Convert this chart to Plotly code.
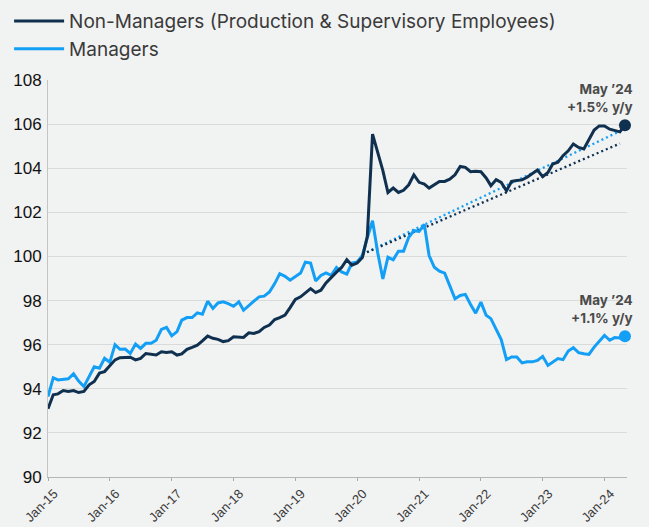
import pandas as pd
import plotly.graph_objects as go

dates = pd.date_range("2015-01-01", "2024-05-01", freq="MS")

non_managers = [
    93.1, 93.73, 93.77, 93.92, 93.88, 93.92, 93.83, 93.88, 94.18, 94.33, 94.71, 94.78,
    95.04, 95.31, 95.41, 95.43, 95.43, 95.31, 95.38, 95.6, 95.58, 95.53, 95.68, 95.65,
    95.68, 95.53, 95.58, 95.79, 95.88, 95.98, 96.17, 96.39, 96.29, 96.24, 96.14, 96.18,
    96.36, 96.36, 96.33, 96.54, 96.51, 96.59, 96.78, 96.89, 97.14, 97.23, 97.34, 97.68,
    98.05, 98.17, 98.35, 98.54, 98.36, 98.47, 98.8, 99.07, 99.29, 99.5, 99.85, 99.6,
    99.7, 99.95, 100.9, 105.55, 104.79, 103.89, 102.9, 103.1, 102.9, 103.0, 103.25, 103.7,
    103.36, 103.28, 103.1, 103.25, 103.4, 103.4, 103.5, 103.7, 104.08, 104.04, 103.84, 103.86,
    103.84, 103.56, 103.21, 103.48, 103.36, 102.98, 103.4, 103.44, 103.47, 103.59, 103.77, 103.92,
    103.62, 103.81, 104.19, 104.27, 104.57, 104.79, 105.1, 104.94, 104.87, 105.28, 105.73, 105.92,
    105.92, 105.77, 105.7, 105.65, 105.95,
]

managers = [
    93.65, 94.5, 94.4, 94.42, 94.45, 94.68, 94.35, 94.1, 94.55, 95.0, 94.93, 95.38,
    95.2, 96.0, 95.79, 95.8, 95.6, 96.03, 95.83, 96.06, 96.06, 96.2, 96.69, 96.78,
    96.4, 96.59, 97.11, 97.23, 97.23, 97.44, 97.38, 97.97, 97.64, 97.89, 97.94, 97.86,
    97.74, 97.94, 97.56, 97.79, 97.97, 98.17, 98.2, 98.39, 98.77, 99.22, 99.1, 98.92,
    99.1, 99.25, 99.74, 99.7, 98.89, 99.14, 99.25, 99.14, 99.5, 99.3, 99.2, 99.7,
    99.75, 100.05, 100.85, 101.62, 100.19, 98.98, 99.97, 99.85, 100.24, 100.24, 100.87, 101.17,
    101.14, 101.45, 100.04, 99.51, 99.33, 99.24, 98.68, 98.08, 98.23, 98.28, 97.82, 97.43,
    97.93, 97.33, 97.18, 96.72, 96.23, 95.32, 95.44, 95.44, 95.17, 95.22, 95.22, 95.29,
    95.47, 95.06, 95.22, 95.37, 95.32, 95.71, 95.86, 95.64, 95.59, 95.56, 95.89, 96.17,
    96.42, 96.2, 96.32, 96.3, 96.38,
]

trend_dates = ["2020-02-01", "2024-04-01"]
trend_non_managers = [100.1, 105.12]
trend_managers = [100.1, 105.68]

label_non_managers = "May \u201924<br>+1.5% y/y"
label_managers = "May \u201924<br>+1.1% y/y"

y_ticks = [90, 92, 94, 96, 98, 100, 102, 104, 106, 108]

DARK = "#10304f"
BLUE = "#129ff5"
BG = "#f1f2f2"

fig = go.Figure()

fig.add_trace(go.Scatter(
    x=trend_dates, y=trend_managers, mode="lines",
    line=dict(color=BLUE, width=2.3, dash="2px,3px"),
    showlegend=False, hoverinfo="skip"))
fig.add_trace(go.Scatter(
    x=trend_dates, y=trend_non_managers, mode="lines",
    line=dict(color=DARK, width=2.3, dash="2px,3px"),
    showlegend=False, hoverinfo="skip"))

fig.add_trace(go.Scatter(
    x=dates, y=managers, mode="lines", name="Managers",
    line=dict(color=BLUE, width=3), legendgroup="b", legendrank=2))
fig.add_trace(go.Scatter(
    x=dates, y=non_managers, mode="lines",
    name="Non-Managers (Production & Supervisory Employees)",
    line=dict(color=DARK, width=3), legendgroup="a", legendrank=1))

fig.add_trace(go.Scatter(
    x=[dates[-1]], y=[non_managers[-1]], mode="markers", cliponaxis=False,
    marker=dict(color=DARK, size=12), showlegend=False, hoverinfo="skip"))
fig.add_trace(go.Scatter(
    x=[dates[-1]], y=[managers[-1]], mode="markers", cliponaxis=False,
    marker=dict(color=BLUE, size=12), showlegend=False, hoverinfo="skip"))

ann_font = dict(family="Inter", size=13.5, color="#4a4a4a", weight="bold")
for txt, yv in ((label_non_managers, non_managers[-1]), (label_managers, managers[-1])):
    fig.add_annotation(
        x=dates[-1], y=yv, xref="x", yref="y", text=txt, showarrow=False,
        xanchor="right", yanchor="middle", align="right",
        xshift=10, yshift=27, font=ann_font)

fig.update_layout(
    width=649, height=527,
    paper_bgcolor=BG, plot_bgcolor=BG,
    margin=dict(l=48, r=22, t=80, b=50, autoexpand=False),
    font=dict(family="Inter", color="#333333"),
    showlegend=True,
    legend=dict(
        xref="container", yref="container", x=0.014, y=0.996,
        xanchor="left", yanchor="top",
        font=dict(family="Inter", size=19, color="#3a3a3a"),
        bgcolor="rgba(0,0,0,0)", tracegroupgap=0, itemwidth=50,
        traceorder="grouped"),
    xaxis=dict(
        type="date", range=["2015-01-01", "2024-05-13"],
        tick0="2015-01-01", dtick="M12", tickformat="%b-%y",
        tickangle=-45, ticks="outside", ticklen=3, tickcolor="#aaaaaa",
        showgrid=False, showline=True, linecolor="#b5b5b5", linewidth=1,
        tickfont=dict(family="Liberation Sans", size=13, color="#3a3a3a"),
        ticklabelstandoff=0, ticklabelshift=6,
        automargin=False, zeroline=False),
    yaxis=dict(
        range=[90, 108], tickvals=y_ticks,
        showgrid=True, gridcolor="#d9dbdb", gridwidth=1,
        showline=True, linecolor="#c4c4c4", linewidth=1,
        tickfont=dict(family="Liberation Sans", size=17, color="#111111"),
        ticks="", ticklabelstandoff=2,
        automargin=False, zeroline=False),
)

fig.write_html(
    "out.html",
    config={"displayModeBar": False},
    post_script="document.body.style.margin='0';document.body.style.background='" + BG + "';",
)
